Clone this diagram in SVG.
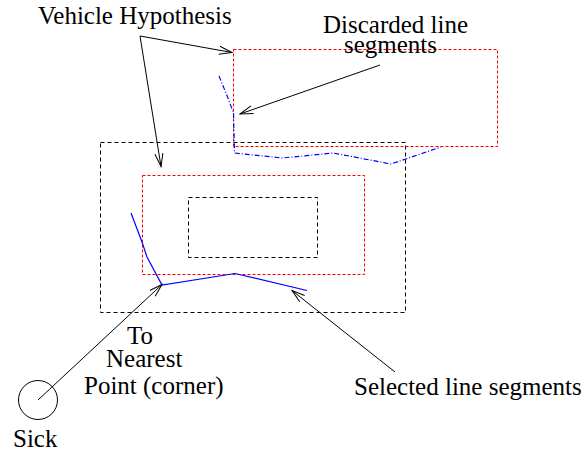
<svg xmlns="http://www.w3.org/2000/svg" width="587" height="454" viewBox="0 0 587 454">
<style>
text{font-family:"Liberation Serif","Times New Roman",serif;font-size:25px;fill:#000}
.bd{fill:none;stroke:#000;stroke-width:1;stroke-dasharray:4 3}
.rd{fill:none;stroke:#ff0000;stroke-width:1;stroke-dasharray:3 2}
.bl{fill:none;stroke:#0000ff;stroke-width:1.2}
.bdd{fill:none;stroke:#0000ff;stroke-width:1.2;stroke-dasharray:5 2 1 2}
.ar{fill:none;stroke:#000;stroke-width:1;marker-end:url(#ah)}
</style>
<defs>
<marker id="ah" markerUnits="userSpaceOnUse" markerWidth="16" markerHeight="12" refX="13" refY="5" orient="auto">
<path d="M0,1 L13,5 L0,9" fill="none" stroke="#000" stroke-width="1"/>
</marker>
</defs>
<rect width="587" height="454" fill="#fff"/>
<g id="outer-box"><rect class="bd" x="100.5" y="142.5" width="305" height="170"/></g>
<g id="hypothesis-box"><rect class="rd" x="142.5" y="175.5" width="222" height="99"/></g>
<g id="inner-box"><rect class="bd" x="188.5" y="197.5" width="129" height="60"/></g>
<g id="discarded-box"><rect class="rd" x="233.5" y="49.5" width="264" height="97"/></g>
<g id="selected-segments"><polyline class="bl" points="131,213 142,242 147,257 162,285 235,273.5 307,290.5"/></g>
<g id="discarded-segments"><polyline class="bdd" points="219,76 228,98 233.5,113 234.5,153 282,158 333,153 391,164 441,147"/></g>
<g id="sick"><circle cx="38" cy="400" r="19.5" fill="none" stroke="#000" stroke-width="1"/><text x="13" y="447">Sick</text></g>
<g id="labels">
<text x="38" y="24">Vehicle Hypothesis</text>
<text x="323" y="33">Discarded line</text>
<text x="344" y="53">segments</text>
<text x="127" y="344">To</text>
<text x="106" y="367">Nearest</text>
<text x="84" y="394">Point (corner)</text>
<text x="354" y="395">Selected line segments</text>
</g>
<g id="connectors">
<line class="ar" x1="140" y1="36" x2="232" y2="52.5"/>
<line class="ar" x1="140" y1="36" x2="161" y2="166.5"/>
<line class="ar" x1="380" y1="65" x2="240" y2="114"/>
<line class="ar" x1="38" y1="400" x2="162" y2="284.5"/>
<line class="ar" x1="395" y1="372" x2="292" y2="290.5"/>
</g>
</svg>
